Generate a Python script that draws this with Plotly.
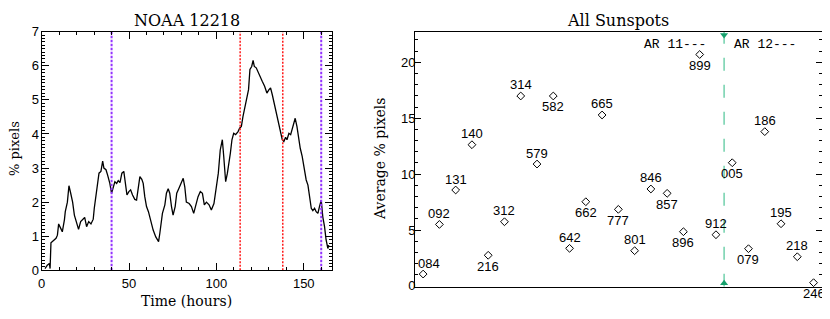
import plotly.graph_objects as go

# ---------------- data ----------------
hours = [1.9, 3.2, 4.4, 4.8, 5.3, 6.7, 8.2, 9.0, 9.7, 10.9, 11.8, 13.0, 13.5, 14.7, 15.6, 16.6, 17.7,
         18.7, 20.0, 21.1, 22.3, 23.4, 24.6, 25.7, 26.9, 28.2, 29.5, 30.1, 31.0, 32.0, 32.8, 33.9, 34.9,
         35.6, 36.8, 37.7, 39.0, 40.0, 40.6, 41.9, 42.9, 43.8, 44.8, 45.9, 47.0, 47.8, 48.8, 49.9, 50.9,
         52.0, 53.3, 54.3, 55.2, 56.2, 57.3, 58.1, 59.0, 60.0, 61.1, 62.3, 63.8, 65.3, 66.9, 67.6, 69.1,
         70.5, 71.4, 72.4, 73.3, 74.3, 75.2, 76.4, 77.3, 78.5, 79.6, 81.0, 81.9, 82.8, 84.4, 85.7, 87.0,
         88.2, 89.5, 90.8, 92.0, 93.1, 94.3, 95.8, 97.1, 98.6, 99.9, 101.1, 102.2, 103.4, 104.2, 105.3,
         106.3, 107.2, 108.0, 108.9, 109.9, 111.0, 112.4, 113.3, 114.3, 115.2, 116.3, 117.5, 118.4, 119.2,
         120.2, 121.0, 121.7, 122.8, 124.0, 125.1, 126.3, 127.6, 128.9, 130.1, 131.0, 132.0, 133.1, 134.3,
         135.4, 136.5, 137.7, 138.6, 139.6, 140.4, 141.5, 142.5, 143.4, 144.4, 145.1, 146.1, 147.0, 148.0,
         149.1, 150.3, 151.4, 152.4, 153.3, 154.3, 155.2, 156.2, 157.1, 158.1, 159.0, 160.0, 160.9, 161.9,
         162.8, 163.8, 164.3]
pct_pixels = [0.05, 0.15, 0.2, 0.05, 0.81, 0.86, 0.94, 1.03, 1.36, 1.23, 1.13, 1.48, 1.72, 2.0, 2.48, 2.26, 2.0,
              1.62, 1.38, 1.2, 1.43, 1.48, 1.55, 1.28, 1.43, 1.36, 1.5, 1.82, 2.16, 2.55, 2.85, 2.9, 3.2,
              3.0, 2.95, 2.8, 2.55, 2.26, 2.36, 2.6, 2.55, 2.63, 2.57, 2.85, 2.9, 2.65, 2.21, 2.31, 2.36,
              2.21, 2.08, 2.06, 2.45, 2.75, 2.67, 2.55, 2.16, 1.87, 1.72, 1.48, 1.18, 0.98, 0.84, 1.08, 1.67,
              1.92, 2.26, 2.39, 2.26, 1.87, 1.62, 1.87, 2.26, 2.4, 2.55, 2.7, 2.45, 2.0, 1.96, 1.87, 1.67,
              1.92, 2.16, 2.31, 2.26, 1.92, 2.0, 1.92, 1.77, 1.96, 2.36, 2.85, 3.53, 3.83, 3.34, 2.6,
              2.85, 3.14, 3.44, 3.83, 4.02, 3.98, 4.07, 4.17, 4.22, 4.51, 4.76, 5.0, 5.3, 5.89,
              5.98, 6.16, 5.98, 5.94, 5.79, 5.69, 5.54, 5.40, 5.2, 5.3, 5.35, 5.15, 4.9, 4.66,
              4.42, 4.12, 3.83, 3.78, 3.9, 3.83, 4.02, 3.98, 4.17, 4.32, 4.46, 4.22, 3.88, 3.58,
              3.34, 3.0, 2.65, 2.5, 2.16, 1.82, 1.75, 1.82, 1.72, 1.67, 1.87, 2.06, 1.57, 1.28,
              0.89, 0.64, 0.74]
purple_times = [40.0, 160.0]
red_times = [113.6, 138.0]

ar11_labels = ["084", "092", "131", "140", "216", "312", "314", "579", "582", "642", "662", "665",
               "777", "801", "846", "857", "896", "899", "912"]
ar11_avg = [1.06, 5.5, 8.58, 12.63, 2.74, 5.74, 16.99, 10.9, 16.99, 3.36, 7.53, 15.29,
            6.85, 3.15, 8.67, 8.28, 4.85, 20.7, 4.58]
ar12_labels = ["005", "079", "186", "195", "218", "246"]
ar12_avg = [11.02, 3.33, 13.8, 5.56, 2.61, 0.29]

# ---------------- styling ----------------
# the page body has an 8px default margin: lay the figure out in window pixels minus that offset
OFF = 8
W, H = 830 - OFF, 319 - OFF
def px(x): return (x - OFF) / W
def py(y): return 1 - (y - OFF) / H

label_side = ["up", "up", "up", "up", "down", "up", "up", "up", "down", "up", "down", "up",
              "down", "up", "up", "down", "down", "down", "up",
              "down", "down", "up", "up", "up", "down"]
label_xshift = {"084": 6}

SERIF = "DejaVu Serif"
SANS = "Liberation Sans"
MONO = "Liberation Mono"

LX_RANGE = [0, 166]
LY_RANGE = [0, 7]
RY_RANGE = [-0.07, 22.74]

fig = go.Figure()

# left: time series
fig.add_trace(go.Scatter(x=hours, y=pct_pixels, mode="lines",
                         line=dict(color="black", width=1.3), xaxis="x", yaxis="y",
                         showlegend=False, hoverinfo="skip"))
for t in red_times:
    fig.add_trace(go.Scatter(x=[t, t], y=LY_RANGE, mode="lines",
                             line=dict(color="#ff1a1a", width=1.5, dash="2px,1.5px"),
                             xaxis="x", yaxis="y", showlegend=False))
for t in purple_times:
    fig.add_trace(go.Scatter(x=[t, t], y=LY_RANGE, mode="lines",
                             line=dict(color="#9433ff", width=2, dash="2.5px,1.5px"),
                             xaxis="x", yaxis="y", showlegend=False))

# right: scatter
all_labels = ar11_labels + ar12_labels
all_avg = ar11_avg + ar12_avg
idx = list(range(1, len(all_labels) + 1))
boundary = len(ar11_labels) + 0.5
RX_RANGE = [0.5, len(all_labels) + 0.5]

fig.add_trace(go.Scatter(x=[boundary, boundary], y=RY_RANGE, mode="lines",
                         line=dict(color="#5cc99f", width=1.3, dash="13px,14px"),
                         xaxis="x2", yaxis="y2", showlegend=False))
tri_off = 0.3
fig.add_trace(go.Scatter(x=[boundary, boundary], y=[RY_RANGE[1] - tri_off, RY_RANGE[0] + tri_off],
                         mode="markers",
                         marker=dict(symbol=["triangle-down", "triangle-up"], size=7,
                                     color="#16a06c", line=dict(width=0)),
                         xaxis="x2", yaxis="y2", showlegend=False, cliponaxis=False))
fig.add_trace(go.Scatter(x=idx, y=all_avg, mode="markers",
                         marker=dict(symbol="diamond-open", size=6, color="black",
                                     line=dict(width=1, color="black")),
                         xaxis="x2", yaxis="y2", showlegend=False, cliponaxis=False))

annotations = []
for i, (lab, v) in enumerate(zip(all_labels, all_avg)):
    up = label_side[i] == "up"
    annotations.append(dict(x=idx[i], y=v, xref="x2", yref="y2", text=lab, showarrow=False,
                            yshift=11 if up else -11, xshift=label_xshift.get(lab, 0),
                            font=dict(family=SANS, size=13, color="black"),
                            xanchor="center", yanchor="middle"))

# AR labels
annotations.append(dict(x=boundary, y=1, xref="x2", yref="y2 domain", text="AR 11---",
                        showarrow=False, xanchor="right", yanchor="top", xshift=-16, yshift=-3,
                        font=dict(family=MONO, size=13, color="black")))
annotations.append(dict(x=boundary, y=1, xref="x2", yref="y2 domain", text="AR 12---",
                        showarrow=False, xanchor="left", yanchor="top", xshift=8, yshift=-3,
                        font=dict(family=MONO, size=13, color="black")))

# titles and axis titles
annotations += [
    dict(x=px(186.7), y=py(20), xref="paper", yref="paper", text="NOAA 12218", showarrow=False,
         xanchor="center", yanchor="middle", font=dict(family=SERIF, size=16, color="black")),
    dict(x=px(618.3), y=py(20), xref="paper", yref="paper", text="All Sunspots", showarrow=False,
         xanchor="center", yanchor="middle", font=dict(family=SERIF, size=16, color="black")),
    dict(x=px(186.7), y=py(301), xref="paper", yref="paper", text="Time (hours)", showarrow=False,
         xanchor="center", yanchor="middle", font=dict(family=SERIF, size=14, color="black")),
    dict(x=px(14), y=py(149), xref="paper", yref="paper", text="% pixels", showarrow=False,
         textangle=-90, xanchor="center", yanchor="middle",
         font=dict(family=SERIF, size=13, color="black")),
    dict(x=px(380), y=py(159), xref="paper", yref="paper", text="Average % pixels", showarrow=False,
         textangle=-90, xanchor="center", yanchor="middle",
         font=dict(family=SERIF, size=14, color="black")),
]

axis_common = dict(showline=True, linecolor="black", linewidth=1, mirror="ticks",
                   showgrid=False, zeroline=False, ticks="inside", tickcolor="black",
                   tickwidth=1, automargin=False,
                   tickfont=dict(family=SANS, size=13, color="black"))

fig.update_layout(
    width=W, height=H, margin=dict(l=0, r=0, t=0, b=0, autoexpand=False),
    paper_bgcolor="white", plot_bgcolor="white", showlegend=False,
    xaxis=dict(domain=[px(41.7), px(331.7)], range=LX_RANGE, anchor="y",
               tickmode="linear", tick0=0, dtick=50, ticklen=7,
               minor=dict(dtick=10, tick0=0, ticklen=3.5, ticks="inside", tickcolor="black"),
               ticklabelstandoff=1, **axis_common),
    yaxis=dict(domain=[py(270.3), py(31.7)], range=LY_RANGE, anchor="x",
               tickmode="linear", tick0=0, dtick=1, ticklen=7,
               minor=dict(dtick=0.1, tick0=0, ticklen=3, ticks="inside", tickcolor="black"),
               ticklabelstandoff=-1, **axis_common),
    xaxis2=dict(domain=[px(415), px(821.7)], range=RX_RANGE, anchor="y2",
                showline=True, linecolor="black", linewidth=1, mirror=True, automargin=False,
                showgrid=False, zeroline=False, ticks="", showticklabels=False),
    yaxis2=dict(domain=[py(286.7), py(31.7)], range=RY_RANGE, anchor="x2",
                tickmode="linear", tick0=0, dtick=5, ticklen=6,
                minor=dict(dtick=1, tick0=0, ticklen=3, ticks="inside", tickcolor="black"),
                ticklabelstandoff=-4, **axis_common),
    annotations=annotations,
)

fig.write_html("out.html")
